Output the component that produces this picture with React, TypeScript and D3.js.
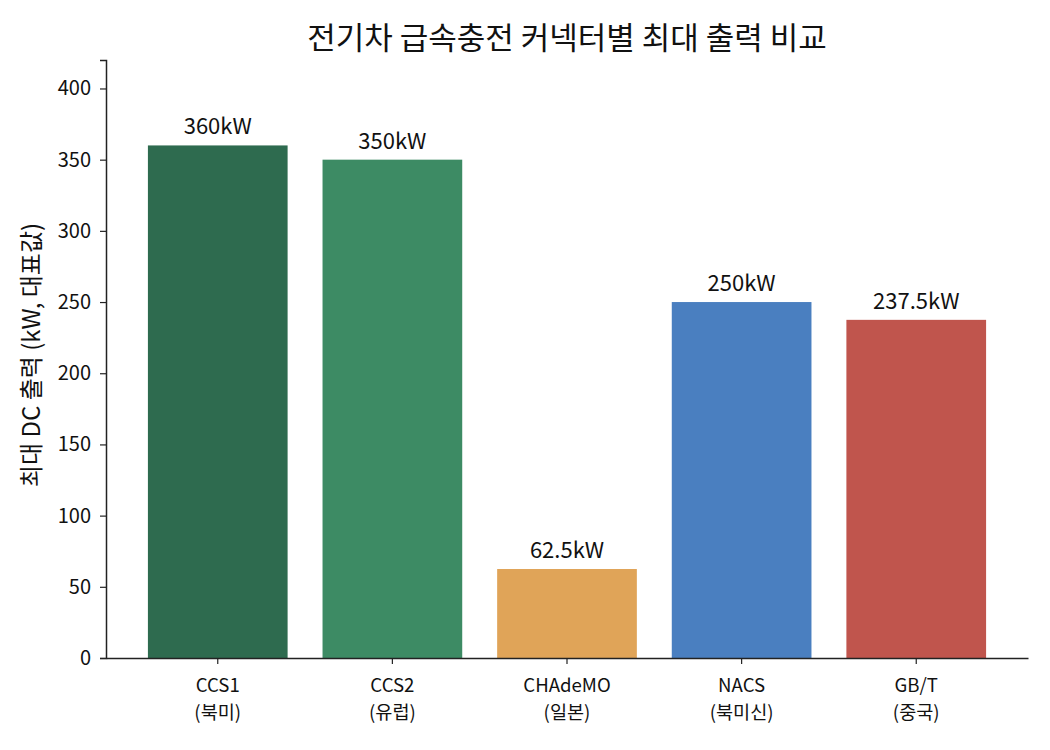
import { useEffect, useRef } from "react"
import * as d3 from "d3"

const connectors = ["CCS1", "CCS2", "CHAdeMO", "NACS", "GB/T"]
const regions = ["(북미)", "(유럽)", "(일본)", "(북미신)", "(중국)"]
const maxPower = [360, 350, 62.5, 250, 237.5]
const valueLabels = ["360kW", "350kW", "62.5kW", "250kW", "237.5kW"]
const barColors = ["#2e6b4f", "#3d8b64", "#e0a458", "#4a7fc0", "#c0554d"]
const yTicks = [0, 50, 100, 150, 200, 250, 300, 350, 400]

const FONT = "'Noto Sans CJK KR', 'Noto Sans', sans-serif"

export default function App() {
  const svgRef = useRef<SVGSVGElement | null>(null)

  useEffect(() => {
    if (!svgRef.current) return
    const root = d3.select(svgRef.current)
    root.selectAll("*").remove()

    const margin = { top: 60, right: 22, bottom: 92, left: 106 }
    const width = 1050 - margin.left - margin.right
    const height = 750 - margin.top - margin.bottom

    const svg = root.append("g").attr("transform", `translate(${margin.left},${margin.top})`)

    const x = d3.scaleBand().domain(connectors).range([0, width]).paddingInner(0.2).paddingOuter(0.24)
    const y = d3.scaleLinear().domain([0, 420]).range([height, 0])

    // bars
    svg
      .selectAll(".bar")
      .data(connectors)
      .enter()
      .append("rect")
      .attr("x", (d) => x(d) as number)
      .attr("y", (_, i) => y(maxPower[i]))
      .attr("width", x.bandwidth())
      .attr("height", (_, i) => height - y(maxPower[i]))
      .attr("fill", (_, i) => barColors[i])

    // value labels
    svg
      .selectAll(".val")
      .data(connectors)
      .enter()
      .append("text")
      .attr("x", (d) => (x(d) as number) + x.bandwidth() / 2)
      .attr("y", (_, i) => y(maxPower[i]) - 11)
      .attr("text-anchor", "middle")
      .attr("font-family", FONT)
      .attr("font-size", 22)
      .attr("fill", "#111")
      .text((_, i) => valueLabels[i])

    // y axis
    const yAxis = svg
      .append("g")
      .call(d3.axisLeft(y).tickValues(yTicks).tickSize(6).tickPadding(9))
    yAxis.select(".domain").attr("stroke", "#222").attr("stroke-width", 1.5)
    yAxis.selectAll(".tick line").attr("stroke", "#222").attr("stroke-width", 1.2)
    yAxis.selectAll("text").attr("font-family", FONT).attr("font-size", 20).attr("fill", "#111")

    // x axis
    const xAxis = svg
      .append("g")
      .attr("transform", `translate(0,${height})`)
      .call(d3.axisBottom(x).tickSize(6).tickSizeOuter(0).tickFormat(() => ""))
    xAxis.select(".domain").attr("stroke", "#222").attr("stroke-width", 1.5)
    xAxis.selectAll(".tick line").attr("stroke", "#222").attr("stroke-width", 1.2)
    xAxis
      .selectAll(".tick")
      .each(function (d) {
        const i = connectors.indexOf(d as string)
        const t = d3.select(this)
        ;[connectors[i], regions[i]].forEach((line, k) => {
          t.append("text")
            .attr("x", 0)
            .attr("y", 34 + k * 27)
            .attr("text-anchor", "middle")
            .attr("font-family", FONT)
            .attr("font-size", 18.6)
            .attr("fill", "#111")
            .text(line)
        })
      })

    // y axis title
    svg
      .append("text")
      .attr("transform", `translate(${-66},${295}) rotate(-90)`)
      .attr("text-anchor", "middle")
      .attr("font-family", FONT)
      .attr("font-size", 24)
      .attr("fill", "#111")
      .text("최대 DC 출력 (kW, 대표값)")

    // title
    svg
      .append("text")
      .attr("x", width / 2)
      .attr("y", -11)
      .attr("text-anchor", "middle")
      .attr("font-family", FONT)
      .attr("font-size", 31)
      .attr("fill", "#111")
      .text("전기차 급속충전 커넥터별 최대 출력 비교")
  }, [])

  return (
    <svg
      ref={svgRef}
      width={1050}
      height={750}
      style={{ position: "absolute", left: 0, top: 0, background: "#fff" }}
    ></svg>
  )
}
